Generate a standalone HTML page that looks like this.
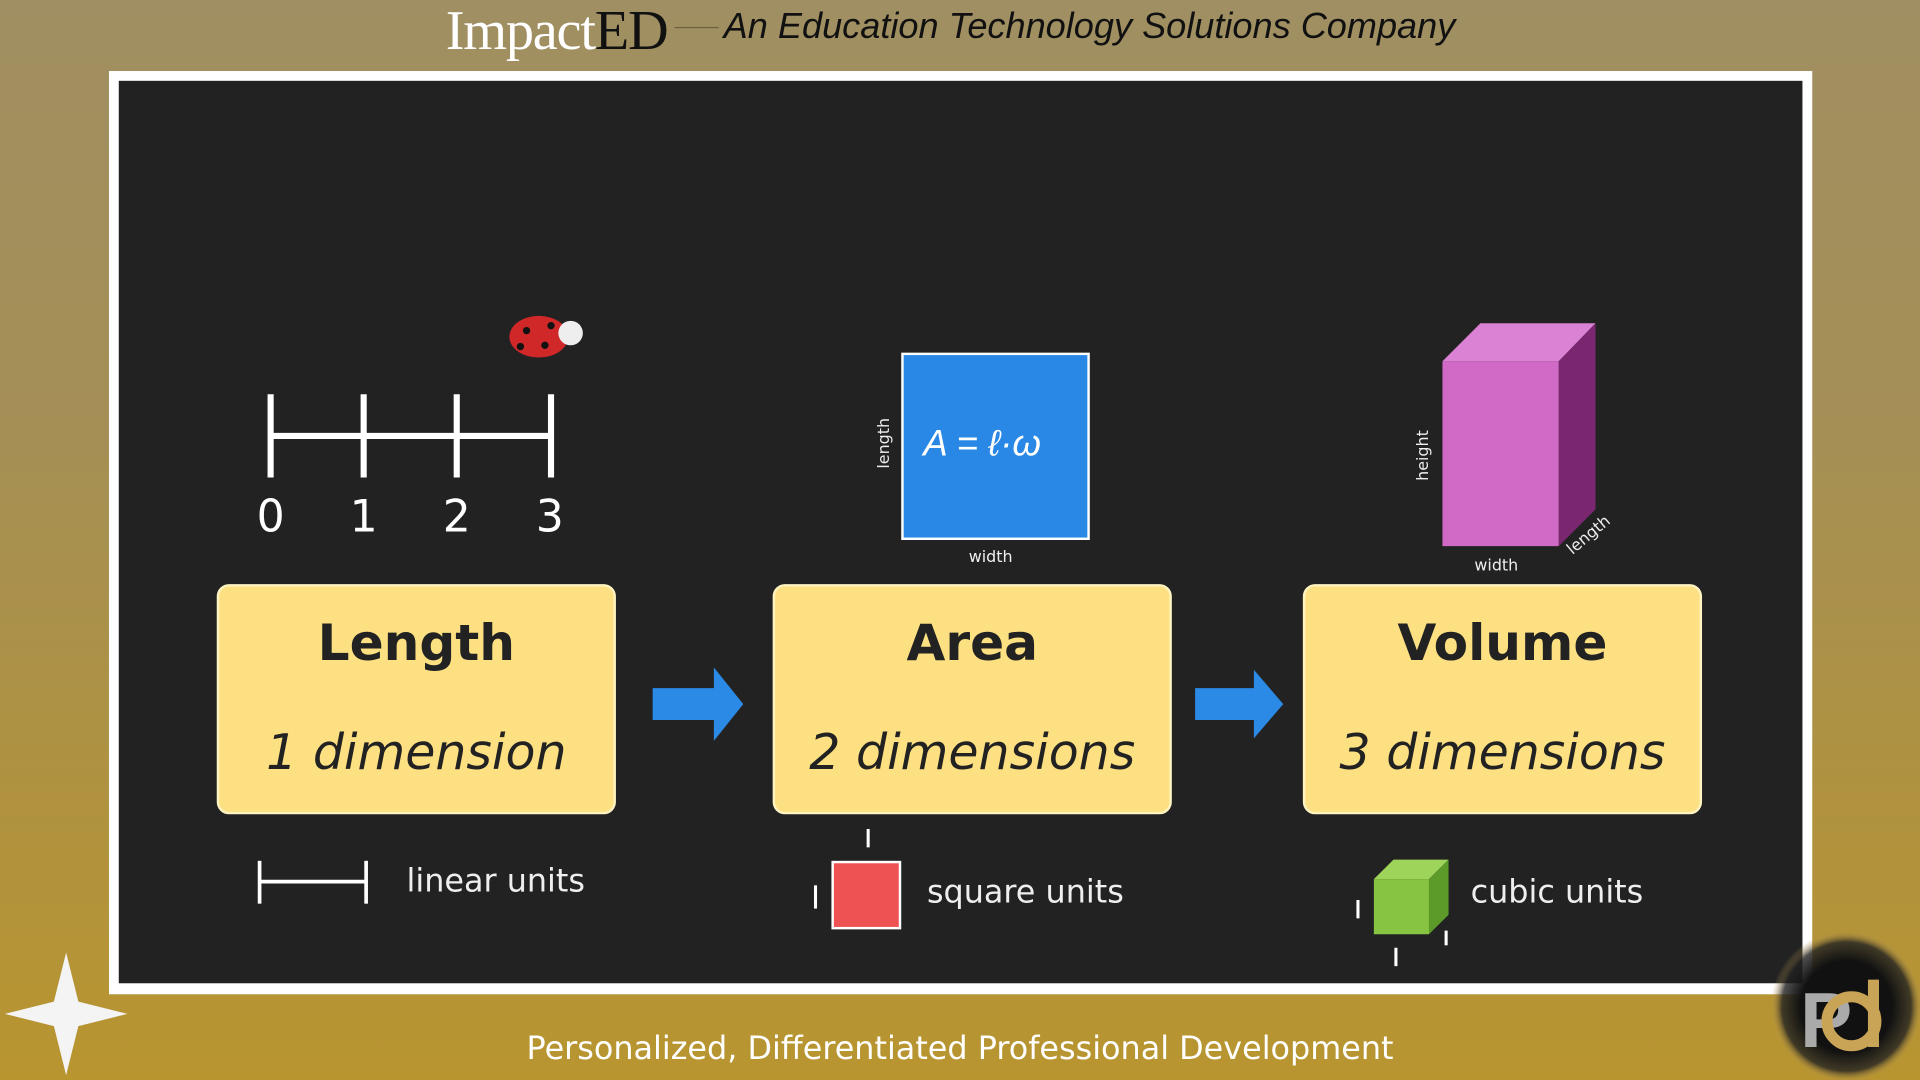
<!DOCTYPE html>
<html><head><style>
html,body{margin:0;padding:0;width:1920px;height:1080px;overflow:hidden}
#s{position:absolute;left:0;top:0;width:1568px;height:882px;transform:scale(1.22449);transform-origin:0 0;
background:linear-gradient(#a08f62 0%,#a58f55 40%,#b8952f 100%);font-family:"DejaVu Sans","Liberation Sans",sans-serif}
.a{position:absolute}
.box{position:absolute;background:#fde082;border-radius:10px;border:2px solid #fff3c0;width:322px;height:184px;top:477px;text-align:center;color:#222}
.box .t{font-weight:bold;font-size:41px;margin-top:22px;line-height:48px}
.box .d{font-style:italic;font-size:40px;margin-top:42px;line-height:48px}
.lbl{position:absolute;color:#eee;font-size:26px}
.n{position:absolute;color:#fff;font-size:36px;top:402px;width:40px;text-align:center}
</style></head><body><div id="s">
<div class="a" style="left:364px;top:-2px;font-family:'Liberation Serif',serif;font-size:46px;color:#fff;letter-spacing:-1px">Impact<span style="color:#111">ED</span></div>
<div class="a" style="left:551px;top:22px;width:36px;height:1px;background:#6e6040"></div>
<div class="a" style="left:591px;top:5px;font-family:'Liberation Sans',sans-serif;font-style:italic;font-size:29.5px;color:#111">An Education Technology Solutions Company</div>
<div class="a" style="left:89px;top:58px;width:1391px;height:754px;background:#fff"></div>
<div class="a" style="left:97px;top:66px;width:1375px;height:737px;background:#222"></div>

<svg class="a" style="left:0;top:0" width="1568" height="882">
<g stroke="#fff" stroke-width="5" fill="none">
<line x1="221" y1="356" x2="450" y2="356"/>
<line x1="221" y1="322" x2="221" y2="390"/><line x1="297" y1="322" x2="297" y2="390"/>
<line x1="373" y1="322" x2="373" y2="390"/><line x1="450" y1="322" x2="450" y2="390"/>
</g>
<g stroke="#fff" stroke-width="3"><line x1="211" y1="720" x2="300" y2="720"/><line x1="212" y1="703" x2="212" y2="738"/><line x1="299" y1="703" x2="299" y2="738"/></g>
<ellipse cx="440" cy="275" rx="24" ry="17" fill="#d02828"/>
<circle cx="466" cy="272" r="10" fill="#eee"/>
<circle cx="430" cy="270" r="3" fill="#111"/><circle cx="445" cy="282" r="3" fill="#111"/><circle cx="425" cy="283" r="3" fill="#111"/><circle cx="450" cy="266" r="3" fill="#111"/>
<rect x="737" y="289" width="152" height="151" fill="#2988e6" stroke="#fff" stroke-width="2"/>
<text x="754" y="372" font-family="Liberation Sans" font-size="30" fill="#fff" font-style="italic">A = ℓ·ω</text>
<text x="809" y="459" font-size="13" fill="#eee" text-anchor="middle" font-family="DejaVu Sans">width</text>
<text transform="translate(726,362) rotate(-90)" font-size="13" fill="#eee" text-anchor="middle" font-family="DejaVu Sans">length</text>
<polygon points="1178,295 1273,295 1273,446 1178,446" fill="#d06ac6"/>
<polygon points="1178,295 1209,264 1303,264 1273,295" fill="#dc82d4"/>
<polygon points="1273,295 1303,264 1303,416 1273,446" fill="#7a2770"/>
<text x="1222" y="466" font-size="13" fill="#eee" text-anchor="middle" font-family="DejaVu Sans">width</text>
<text transform="translate(1166,372) rotate(-90)" font-size="13" fill="#eee" text-anchor="middle" font-family="DejaVu Sans">height</text>
<text transform="translate(1300,440) rotate(-40)" font-size="13" fill="#eee" text-anchor="middle" font-family="DejaVu Sans">length</text>
<polygon points="533,562 583,562 583,545 607,575 583,605 583,588 533,588" fill="#2a8ae6"/>
<polygon points="976,562 1024,562 1024,547 1048,575 1024,603 1024,588 976,588" fill="#2a8ae6"/>
<rect x="680" y="704" width="55" height="54" fill="#ee5252" stroke="#fff" stroke-width="2"/>
<g stroke="#fff" stroke-width="2.5"><line x1="709" y1="677" x2="709" y2="692"/><line x1="666" y1="723" x2="666" y2="742"/>
<line x1="1109" y1="735" x2="1109" y2="750"/><line x1="1140" y1="774" x2="1140" y2="789"/><line x1="1181" y1="760" x2="1181" y2="772"/></g>
<polygon points="1122,718 1167,718 1167,763 1122,763" fill="#86c441"/>
<polygon points="1122,718 1138,702 1183,702 1167,718" fill="#9ed45a"/>
<polygon points="1167,718 1183,702 1183,747 1167,763" fill="#5c9a2a"/>
<defs><radialGradient id="g"><stop offset="0.6" stop-color="#111"/><stop offset="0.85" stop-color="#222" stop-opacity="0.8"/><stop offset="1" stop-color="#c9a456" stop-opacity="0"/></radialGradient></defs>
<circle cx="1508" cy="822" r="62" fill="url(#g)"/>
<text x="1470" y="855" font-family="Liberation Sans" font-weight="bold" font-size="64" fill="#aaa">P</text>
<circle cx="1512" cy="834" r="20" fill="none" stroke="#c9a456" stroke-width="9"/>
<line x1="1530" y1="800" x2="1530" y2="855" stroke="#c9a456" stroke-width="9"/>
<polygon points="54,778 64,818 104,828 64,838 54,878 44,838 4,828 44,818" fill="#f4f4f4"/>
</svg>

<div class="n" style="left:201px">0</div><div class="n" style="left:277px">1</div><div class="n" style="left:353px">2</div><div class="n" style="left:429px">3</div>
<div class="box" style="left:177px"><div class="t">Length</div><div class="d">1 dimension</div></div>
<div class="box" style="left:631px"><div class="t">Area</div><div class="d">2 dimensions</div></div>
<div class="box" style="left:1064px"><div class="t">Volume</div><div class="d">3 dimensions</div></div>
<div class="lbl" style="left:332px;top:705px">linear units</div>
<div class="lbl" style="left:757px;top:714px">square units</div>
<div class="lbl" style="left:1201px;top:714px">cubic units</div>
<div class="a" style="left:0;width:1568px;top:842px;text-align:center;color:#fff;font-size:26px">Personalized, Differentiated Professional Development</div>
</div></body></html>
